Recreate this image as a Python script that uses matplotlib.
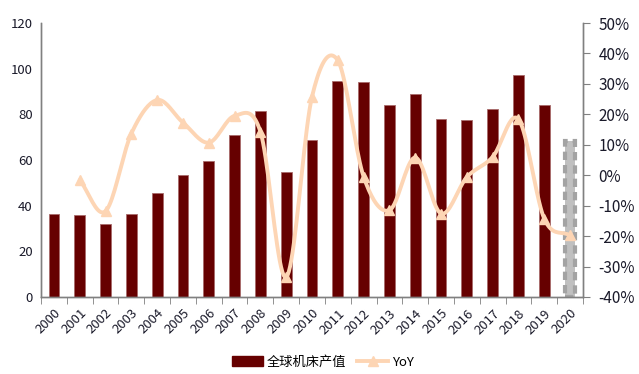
import matplotlib.pyplot as plt
import numpy as np
from matplotlib.lines import Line2D
from matplotlib.patches import Patch

plt.rcParams['font.family'] = ['Noto Sans CJK SC', 'DejaVu Sans']
plt.rcParams['axes.unicode_minus'] = False

# 数据
YEARS = [str(y) for y in range(2000, 2021)]
OUTPUT = [36.5, 36.0, 32.0, 36.5, 45.5, 53.6, 59.6, 71.0, 81.5, 54.8, 68.9,
          94.6, 94.3, 83.9, 88.9, 78.1, 77.5, 82.5, 97.2, 84.2]
OUTPUT_2020 = 68.2  # 2020 预测值（灰色虚线柱）
YOY_YEARS = YEARS[1:]
YOY = [-1.6, -11.8, 13.7, 24.7, 17.3, 10.7, 19.5, 14.3, -33.5, 25.8,
       37.7, -0.5, -11.5, 5.8, -12.6, -0.6, 6.0, 18.4, -14.3, -19.8]

BAR_COLOR = '#660000'
LINE_COLOR = '#FDD5B4'
AXIS_COLOR = '#808080'
TEXT_COLOR = '#1a1a2a'


def catmull_rom(x, y, n=20):
    # Excel 风格的平滑曲线
    x = np.asarray(x, float)
    y = np.asarray(y, float)
    px = np.concatenate([[2 * x[0] - x[1]], x, [2 * x[-1] - x[-2]]])
    py = np.concatenate([[2 * y[0] - y[1]], y, [2 * y[-1] - y[-2]]])
    xs, ys = [], []
    t = np.linspace(0, 1, n, endpoint=False)
    for i in range(1, len(px) - 2):
        for p, out in ((px, xs), (py, ys)):
            p0, p1, p2, p3 = p[i - 1], p[i], p[i + 1], p[i + 2]
            out.extend(0.5 * ((2 * p1) + (-p0 + p2) * t
                              + (2 * p0 - 5 * p1 + 4 * p2 - p3) * t ** 2
                              + (-p0 + 3 * p1 - 3 * p2 + p3) * t ** 3))
    xs.append(x[-1])
    ys.append(y[-1])
    return np.array(xs), np.array(ys)


fig = plt.figure(figsize=(6.39, 3.74), dpi=100)
ax = fig.add_axes([0.0642, 0.2059, 0.9124 - 0.0642, 0.9385 - 0.2059])
ax2 = ax.twinx()

x = np.arange(len(YEARS))
ax.bar(x[:-1], OUTPUT, width=0.42, color=BAR_COLOR, edgecolor='#a86a6a', linewidth=0.6, zorder=2)
ax.bar(x[-1], OUTPUT_2020, width=0.38, color='#c0c0c0', edgecolor='#a3a3a3',
       linewidth=3.0, linestyle=(0, (2.0, 1.2)), zorder=2)

xl = x[1:]
sx, sy = catmull_rom(xl, YOY)
ax2.plot(sx, sy, color=LINE_COLOR, linewidth=2.8, solid_capstyle='round', zorder=3)
ax2.plot(xl, YOY, linestyle='none', marker='^', markersize=6.5, color=LINE_COLOR, zorder=4)

ax.set_xlim(-0.5, len(YEARS) - 0.5)
ax.set_ylim(0, 120)
ax.set_yticks(range(0, 121, 20))
ax2.set_ylim(-40, 50)
ax2.set_yticks(range(-40, 51, 10))
ax2.set_yticklabels([f'{v}%' for v in range(-40, 51, 10)])

ax.set_xticks(x)
ax.set_xticklabels(YEARS, rotation=45, ha='right', rotation_mode='anchor')
ax.set_xticks(np.arange(-0.5, len(YEARS), 1), minor=True)
ax.tick_params(axis='x', which='major', length=0, pad=7, labelsize=9.5, labelcolor=TEXT_COLOR)
ax.tick_params(axis='x', which='minor', length=5, color=AXIS_COLOR, direction='out')
ax.tick_params(axis='y', length=0, pad=6, labelsize=9.5, labelcolor=TEXT_COLOR)
ax2.tick_params(axis='y', length=5, color=AXIS_COLOR, pad=6, labelsize=11, labelcolor=TEXT_COLOR)

for a in (ax, ax2):
    a.spines['top'].set_visible(False)
    for s in ('left', 'right', 'bottom'):
        a.spines[s].set_color(AXIS_COLOR)
        a.spines[s].set_linewidth(1.0)

handles = [
    Patch(facecolor=BAR_COLOR, edgecolor=BAR_COLOR, label='全球机床产值'),
    Line2D([0], [0], color=LINE_COLOR, linewidth=2.8, marker='^', markersize=6.5, label='YoY'),
]
fig.legend(handles=handles, loc='center', bbox_to_anchor=(0.505, 0.032), ncol=2, frameon=False,
           fontsize=9.5, handlelength=2.4, handleheight=0.8, columnspacing=0.8, handletextpad=0.25)

fig.savefig('out.png', dpi=100)
